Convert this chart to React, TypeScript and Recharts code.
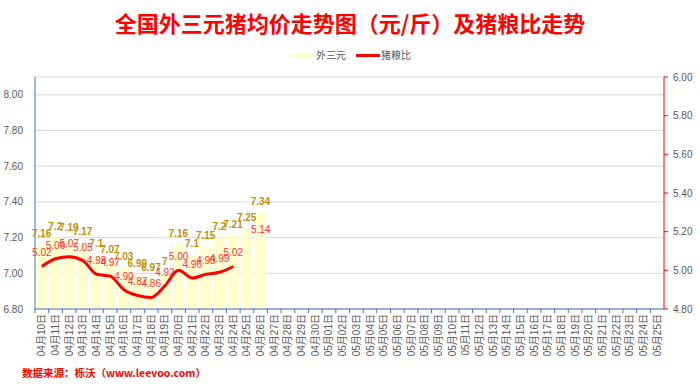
import React from 'react';
import { ComposedChart, Bar, Line, XAxis, YAxis, CartesianGrid, LabelList } from 'recharts';

const dates = [
  '04月10日', '04月11日', '04月12日', '04月13日', '04月14日', '04月15日', '04月16日', '04月17日',
  '04月18日', '04月19日', '04月20日', '04月21日', '04月22日', '04月23日', '04月24日', '04月25日',
  '04月26日', '04月27日', '04月28日', '04月29日', '04月30日', '05月01日', '05月02日', '05月03日',
  '05月04日', '05月05日', '05月06日', '05月07日', '05月08日', '05月09日', '05月10日', '05月11日',
  '05月12日', '05月13日', '05月14日', '05月15日', '05月16日', '05月17日', '05月18日', '05月19日',
  '05月20日', '05月21日', '05月22日', '05月23日', '05月24日', '05月25日',
];
const priceValues = [7.16, 7.2, 7.19, 7.17, 7.1, 7.07, 7.03, 6.99, 6.97, 7, 7.16, 7.1, 7.15, 7.2, 7.21, 7.25, 7.34];
const ratioValues: (number | null)[] = [5.02, 5.06, 5.07, 5.05, 4.98, 4.97, 4.9, 4.87, 4.86, 4.92, 5.0, 4.96, 4.98, 4.99, 5.02, null, 5.14];
const leftTicks = [6.8, 7.0, 7.2, 7.4, 7.6, 7.8, 8.0];
const rightTicks = [4.8, 5.0, 5.2, 5.4, 5.6, 5.8, 6.0];

const data = dates.map((d, i) => ({
  date: d,
  price: priceValues[i] ?? null,
  ratio: ratioValues[i] ?? null,
}));

const FONT = '"Liberation Sans", "Noto Sans CJK SC", sans-serif';
const CJK = '"Noto Sans CJK SC", sans-serif';
const PLOT_W = 629;
const BW = PLOT_W / dates.length;

function XTick(props: any) {
  const { x, y, payload } = props;
  const ty = y + 5;
  return (
    <g>
      <line x1={x - BW / 2} x2={x - BW / 2} y1={y} y2={y + 4} stroke="#4472C4" />
      <text
        x={x}
        y={ty}
        transform={`rotate(-90 ${x} ${ty})`}
        textAnchor="end"
        dy="0.35em"
        fill="#595959"
        fontSize={10}
        fontFamily={FONT}
      >
        {payload.value}
      </text>
    </g>
  );
}

const fmtBar = (v: any) => (v === null || v === undefined ? '' : String(v));
const fmtLine = (v: any) => (v === null || v === undefined ? '' : Number(v).toFixed(2));

export default function App() {
  return (
    <div style={{ position: 'absolute', left: 0, top: 0, width: 700, height: 385, background: '#fff', overflow: 'hidden' }}>
      <div
        style={{
          position: 'absolute', left: 0, top: 9, width: 700, textAlign: 'center',
          fontFamily: CJK, fontWeight: 'bold', fontSize: 22, lineHeight: '26px', color: '#FF0000',
        }}
      >
        全国外三元猪均价走势图（元/斤）及猪粮比走势
      </div>
      <div style={{ position: 'absolute', left: 292, top: 52.5, width: 21, height: 5, background: '#FFFFCC' }} />
      <div style={{ position: 'absolute', left: 316, top: 48, fontFamily: CJK, fontSize: 10, lineHeight: '14px', color: '#595959' }}>外三元</div>
      <div style={{ position: 'absolute', left: 356, top: 53.5, width: 24, height: 3, background: '#FF0000' }} />
      <div style={{ position: 'absolute', left: 381, top: 48, fontFamily: CJK, fontSize: 10, lineHeight: '14px', color: '#595959' }}>猪粮比</div>
      <div
        style={{
          position: 'absolute', left: 22, top: 365, fontFamily: CJK, fontWeight: 'bold', fontSize: 10.5,
          lineHeight: '15px', color: '#FF0000', whiteSpace: 'nowrap',
        }}
      >
        数据来源：栎沃（www.leevoo.com）
      </div>
      <div style={{ position: 'absolute', left: 0, top: 0 }}>
        <ComposedChart
          width={700}
          height={385}
          data={data}
          margin={{ top: 77, right: 0, bottom: 16, left: 0 }}
          barCategoryGap="8%"
        >
          <CartesianGrid yAxisId="left" vertical={false} stroke="#D9D9D9" />
          <XAxis
            dataKey="date"
            interval={0}
            height={60}
            tickLine={false}
            tickSize={0}
            tickMargin={0}
            axisLine={{ stroke: '#4472C4' }}
            tick={<XTick />}
          />
          <YAxis
            yAxisId="left"
            orientation="left"
            width={35}
            domain={[6.8, 8.1]}
            ticks={leftTicks}
            allowDataOverflow
            tickFormatter={(v: number) => v.toFixed(2)}
            tickLine={false}
            tickSize={0}
            tickMargin={12}
            axisLine={{ stroke: '#4472C4' }}
            tick={{ fill: '#595959', fontSize: 10, fontFamily: FONT }}
          />
          <YAxis
            yAxisId="right"
            orientation="right"
            width={36}
            domain={[4.8, 6.0]}
            ticks={rightTicks}
            allowDataOverflow
            tickFormatter={(v: number) => v.toFixed(2)}
            tickLine={{ stroke: '#FF0000' }}
            tickSize={4}
            tickMargin={5}
            axisLine={{ stroke: '#FF0000' }}
            tick={{ fill: '#595959', fontSize: 10, fontFamily: FONT }}
          />
          <Bar yAxisId="left" dataKey="price" fill="#FFFFCC" isAnimationActive={false}>
            <LabelList
              dataKey="price"
              position="top"
              offset={8}
              formatter={fmtBar}
              fill="#BF9000"
              fontSize={10}
              fontWeight="bold"
              fontFamily={FONT}
            />
          </Bar>
          <Line
            yAxisId="right"
            dataKey="ratio"
            type="monotone"
            stroke="#FF0000"
            strokeWidth={3}
            dot={false}
            activeDot={false}
            connectNulls={false}
            isAnimationActive={false}
          >
            <LabelList
              dataKey="ratio"
              position="top"
              offset={10}
              formatter={fmtLine}
              fill="#FF3333"
              fontSize={10}
              fontFamily={FONT}
            />
          </Line>
        </ComposedChart>
      </div>
    </div>
  );
}
